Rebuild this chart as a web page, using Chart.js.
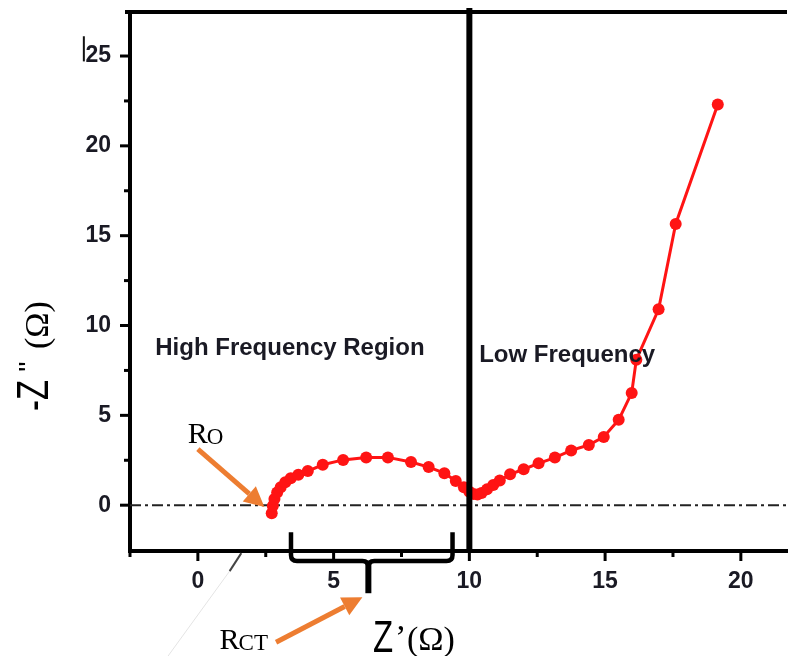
<!DOCTYPE html>
<html>
<head>
<meta charset="utf-8">
<title>Nyquist plot</title>
<script src="https://cdn.jsdelivr.net/npm/chart.js@4.4.1/dist/chart.umd.min.js"></script>
<style>
  html, body { margin: 0; padding: 0; background: #fff; }
  #wrap { width: 793px; height: 656px; }
</style>
</head>
<body>
<div id="wrap"><canvas id="nyquist" width="793" height="656"></canvas></div>
<script>
// impedance spectrum: real part Z' and imaginary part -Z'' (ohm)
const zReal = [2.72, 2.76, 2.82, 2.92, 3.05, 3.22, 3.42, 3.70, 4.05, 4.60,
               5.35, 6.20, 7.00, 7.85, 8.50, 9.08, 9.50, 9.80, 10.00, 10.15,
               10.30, 10.45, 10.65, 10.88, 11.12, 11.50, 12.00, 12.55, 13.15, 13.75,
               14.40, 14.95, 15.50, 15.98, 16.15, 16.97, 17.60, 19.15];
const zImag = [-0.45, -0.05, 0.35, 0.70, 1.00, 1.27, 1.50, 1.70, 1.90, 2.25,
               2.52, 2.66, 2.66, 2.40, 2.12, 1.78, 1.35, 1.00, 0.75, 0.62,
               0.60, 0.68, 0.88, 1.12, 1.38, 1.72, 2.00, 2.33, 2.65, 3.05,
               3.35, 3.80, 4.75, 6.25, 8.10, 10.90, 15.65, 22.30];

// axis ticks (labels only on multiples of 5)
const xTicks = [-2.5, 0, 2.5, 5, 7.5, 10, 12.5, 15, 17.5, 20];
const yTicks = [0, 2.5, 5, 7.5, 10, 12.5, 15, 17.5, 20, 22.5, 25];

// boundary between the two frequency regions
const regionSplit = 10;

const points = zReal.map((x, i) => ({ x: x, y: zImag[i] }));

const RED = '#ff1414';
const ORANGE = '#ed7d31';
const INK = '#1a1a24';
const tickFont = { family: 'Liberation Sans', size: 23, weight: 'bold' };

function arrow(ctx, x1, y1, x2, y2) {
    const ang = Math.atan2(y2 - y1, x2 - x1);
    const head = 20, half = 10;
    const bx = x2 - head * Math.cos(ang), by = y2 - head * Math.sin(ang);
    ctx.save();
    ctx.strokeStyle = ORANGE;
    ctx.fillStyle = ORANGE;
    ctx.lineWidth = 5;
    ctx.beginPath();
    ctx.moveTo(x1, y1);
    ctx.lineTo(bx, by);
    ctx.stroke();
    ctx.beginPath();
    ctx.moveTo(x2, y2);
    ctx.lineTo(bx + half * Math.sin(ang), by - half * Math.cos(ang));
    ctx.lineTo(bx - half * Math.sin(ang), by + half * Math.cos(ang));
    ctx.closePath();
    ctx.fill();
    ctx.restore();
}

// "R" with a small-cap subscript
function rLabel(ctx, x, y, sub) {
    ctx.save();
    ctx.fillStyle = '#000';
    ctx.textBaseline = 'alphabetic';
    ctx.textAlign = 'left';
    ctx.font = '30px "Liberation Serif"';
    ctx.fillText('R', x, y);
    const w = ctx.measureText('R').width;
    ctx.font = '23px "Liberation Serif"';
    ctx.fillText(sub, x + w - 1, y + 1);
    ctx.restore();
}

function narrowText(ctx, text, x, y) {
    ctx.save();
    ctx.translate(x, y);
    ctx.scale(0.75, 1);
    ctx.font = '44px "Liberation Sans"';
    ctx.fillText(text, 0, 0);
    ctx.restore();
}

const decorations = {
    id: 'decorations',
    beforeDatasetsDraw(chart) {
        const { ctx, chartArea, scales: { y } } = chart;
        const py = y.getPixelForValue(0);
        ctx.save();
        ctx.strokeStyle = '#222';
        ctx.lineWidth = 2;
        ctx.setLineDash([11, 4, 3, 4]);
        ctx.beginPath();
        ctx.moveTo(chartArea.left, py);
        ctx.lineTo(chartArea.right, py);
        ctx.stroke();
        ctx.restore();
    },
    afterDatasetsDraw(chart) {
        const { ctx, chartArea, scales: { x, y } } = chart;
        const X = v => x.getPixelForValue(v);
        const Y = v => y.getPixelForValue(v);
        ctx.save();

        // frame top and region divider
        ctx.strokeStyle = '#000';
        ctx.lineWidth = 4;
        ctx.beginPath();
        ctx.moveTo(chartArea.left - 5, chartArea.top);
        ctx.lineTo(chartArea.right, chartArea.top);
        ctx.stroke();
        ctx.lineWidth = 6;
        ctx.beginPath();
        ctx.moveTo(X(regionSplit), chartArea.top - 4);
        ctx.lineTo(X(regionSplit), chartArea.bottom);
        ctx.stroke();

        // outward tick marks
        ctx.lineWidth = 3;
        xTicks.forEach(v => {
            const len = v % 5 === 0 ? 10 : 6;
            ctx.beginPath();
            ctx.moveTo(X(v), chartArea.bottom);
            ctx.lineTo(X(v), chartArea.bottom + len);
            ctx.stroke();
        });
        yTicks.forEach(v => {
            const len = v % 5 === 0 ? 10 : 6;
            ctx.beginPath();
            ctx.moveTo(chartArea.left, Y(v));
            ctx.lineTo(chartArea.left - len, Y(v));
            ctx.stroke();
        });

        // brace spanning the charge-transfer semicircle
        const bl = X(3.43), br = X(9.38), bc = X(6.28);
        const bTop = Y(-1.5), bBar = Y(-3.1), bTip = Y(-4.9);
        const r = 6;
        ctx.lineWidth = 4.5;
        ctx.lineJoin = 'round';
        ctx.beginPath();
        ctx.moveTo(bl, bTop);
        ctx.lineTo(bl, bBar - r);
        ctx.quadraticCurveTo(bl, bBar, bl + r, bBar);
        ctx.lineTo(bc - r, bBar);
        ctx.quadraticCurveTo(bc, bBar, bc, bBar + r);
        ctx.quadraticCurveTo(bc, bBar, bc + r, bBar);
        ctx.lineTo(br - r, bBar);
        ctx.quadraticCurveTo(br, bBar, br, bBar - r);
        ctx.lineTo(br, bTop);
        ctx.stroke();
        ctx.lineWidth = 6;
        ctx.beginPath();
        ctx.moveTo(bc, bBar);
        ctx.lineTo(bc, bTip);
        ctx.stroke();

        // stray marks of the original figure
        ctx.strokeStyle = '#e4e4e4';
        ctx.lineWidth = 1;
        ctx.beginPath();
        ctx.moveTo(X(-1.1), Y(-8.4));
        ctx.lineTo(X(1.17), Y(-3.67));
        ctx.stroke();
        ctx.strokeStyle = '#444';
        ctx.lineWidth = 2;
        ctx.beginPath();
        ctx.moveTo(X(1.17), Y(-3.67));
        ctx.lineTo(X(1.6), Y(-2.67));
        ctx.stroke();
        ctx.strokeStyle = '#111';
        ctx.beginPath();
        ctx.moveTo(X(-4.2), Y(26.1));
        ctx.lineTo(X(-4.2), Y(24.7));
        ctx.stroke();

        // region names
        ctx.fillStyle = INK;
        ctx.font = 'bold 24px "Liberation Sans"';
        ctx.textBaseline = 'alphabetic';
        ctx.fillText('High Frequency Region', X(-1.57), Y(8.35));
        ctx.fillText('Low Frequency', X(10.36), Y(7.96));

        // resistance annotations
        arrow(ctx, X(0), Y(3.12), X(2.45), Y(-0.1));
        rLabel(ctx, X(-0.37), Y(3.45), 'O');
        arrow(ctx, X(2.88), Y(-7.63), X(6.06), Y(-5.12));
        rLabel(ctx, X(0.8), Y(-8.0), 'CT');

        ctx.restore();
    },
    afterDraw(chart) {
        const { ctx } = chart;
        ctx.save();
        ctx.fillStyle = '#000';
        ctx.textBaseline = 'alphabetic';
        ctx.textAlign = 'left';

        // x title: Z'(Ω)
        narrowText(ctx, 'Z', 373, 652);
        ctx.font = '34px "Liberation Serif"';
        ctx.fillText('\u2019', 395, 648);
        ctx.fillText('(\u03A9)', 407, 650);

        // y title: -Z''(Ω), rotated
        ctx.translate(48, 411);
        ctx.rotate(-Math.PI / 2);
        narrowText(ctx, '-Z', 0, 0);
        ctx.font = '28px "Liberation Sans"';
        ctx.fillText("''", 39, -10);
        ctx.font = '34px "Liberation Serif"';
        ctx.fillText('(\u03A9)', 62, 0);
        ctx.restore();
    }
};

new Chart(document.getElementById('nyquist'), {
    type: 'scatter',
    data: {
        datasets: [{
            data: points,
            showLine: true,
            borderColor: RED,
            backgroundColor: RED,
            borderWidth: 3,
            pointRadius: 6,
            pointBorderWidth: 0,
            pointHoverRadius: 6
        }]
    },
    options: {
        responsive: false,
        animation: false,
        devicePixelRatio: 1,
        layout: { padding: { top: 12, left: 0, right: 0, bottom: 0 } },
        plugins: {
            legend: { display: false },
            tooltip: { enabled: false }
        },
        scales: {
            x: {
                type: 'linear',
                min: -2.5,
                max: 21.7,
                afterBuildTicks(scale) { scale.ticks = xTicks.map(v => ({ value: v })); },
                afterFit(scale) {
                    scale.height = 105;
                    scale.paddingLeft = 0;
                    scale.paddingRight = 0;
                },
                grid: { display: false, drawTicks: false },
                border: { display: true, color: '#000', width: 4 },
                ticks: {
                    autoSkip: false,
                    maxRotation: 0,
                    padding: 17,
                    color: INK,
                    font: tickFont,
                    callback: v => (v % 5 === 0 ? String(v) : '')
                }
            },
            y: {
                type: 'linear',
                min: -2.55,
                max: 27.45,
                afterBuildTicks(scale) { scale.ticks = yTicks.map(v => ({ value: v })); },
                afterFit(scale) {
                    scale.width = 130;
                    scale.paddingTop = 0;
                    scale.paddingBottom = 0;
                },
                grid: { display: false, drawTicks: false },
                border: { display: true, color: '#000', width: 4 },
                ticks: {
                    autoSkip: false,
                    padding: 19,
                    color: INK,
                    font: tickFont,
                    callback: v => (v % 5 === 0 ? String(v) : '')
                }
            }
        }
    },
    plugins: [decorations]
});
</script>
</body>
</html>
